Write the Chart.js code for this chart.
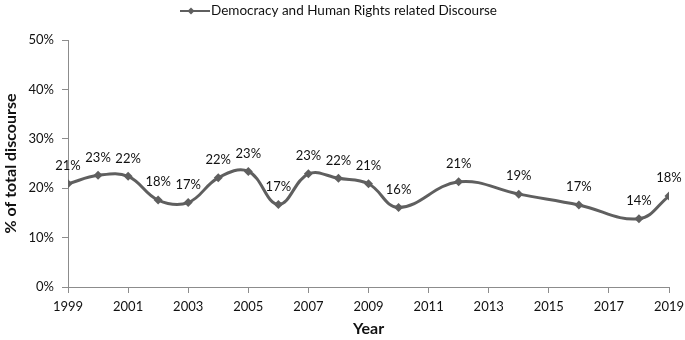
<!DOCTYPE html>
<html>
<head>
<meta charset="utf-8">
<script src="https://cdn.jsdelivr.net/npm/chart.js@4/dist/chart.umd.min.js"></script>
<style>
  html, body { margin: 0; padding: 0; background: #fff; }
  #wrap { width: 685px; height: 340px; }
</style>
</head>
<body>
<div id="wrap"><canvas id="myChart"></canvas></div>
<script>
// data
const seriesName = 'Democracy and Human Rights related Discourse';
const years = [1999, 2000, 2001, 2002, 2003, 2004, 2005, 2006, 2007, 2008, 2009, 2010, 2012, 2014, 2016, 2018, 2019];
const shares = [20.9, 22.6, 22.4, 17.6, 17.1, 22.1, 23.4, 16.7, 22.9, 22.0, 20.9, 16.1, 21.3, 18.8, 16.6, 13.8, 18.4];
const pointLabels = ['21%', '23%', '22%', '18%', '17%', '22%', '23%', '17%', '23%', '22%', '21%', '16%', '21%', '19%', '17%', '14%', '18%'];
const yearTicks = [1999, 2001, 2003, 2005, 2007, 2009, 2011, 2013, 2015, 2017, 2019];
const shareTicks = [0, 10, 20, 30, 40, 50];

const FONT = 'Lato, "Open Sans", sans-serif';
const lineColor = '#5f5f5f';
const axisColor = '#8c8c8c';

// labels above every point
const pointLabelPlugin = {
  id: 'pointLabels',
  afterDatasetsDraw(chart) {
    const ctx = chart.ctx;
    const meta = chart.getDatasetMeta(0);
    ctx.save();
    ctx.font = '13px ' + FONT;
    ctx.fillStyle = '#111';
    ctx.textAlign = 'center';
    ctx.textBaseline = 'middle';
    meta.data.forEach(function (pt, i) {
      ctx.fillText(pointLabels[i], pt.x, pt.y - 18);
    });
    ctx.restore();
  }
};

// legend: short line with a diamond, then the series name
const legendPlugin = {
  id: 'lineLegend',
  afterDraw(chart) {
    const ctx = chart.ctx;
    ctx.save();
    ctx.font = '13.5px ' + FONT;
    const tw = ctx.measureText(seriesName).width;
    const lineW = 30;
    const total = lineW + 1 + tw;
    const x0 = chart.width / 2 - total / 2 - 4;
    const y = 11;
    ctx.strokeStyle = lineColor;
    ctx.lineWidth = 2;
    ctx.beginPath();
    ctx.moveTo(x0, y);
    ctx.lineTo(x0 + lineW, y);
    ctx.stroke();
    ctx.fillStyle = lineColor;
    ctx.beginPath();
    const cx = x0 + lineW / 2 - 4;
    ctx.moveTo(cx, y - 3.5);
    ctx.lineTo(cx + 3.5, y);
    ctx.lineTo(cx, y + 3.5);
    ctx.lineTo(cx - 3.5, y);
    ctx.closePath();
    ctx.fill();
    ctx.fillStyle = '#111';
    ctx.textBaseline = 'middle';
    ctx.fillText(seriesName, x0 + lineW + 1, y);
    ctx.restore();
  }
};

const ctx = document.getElementById('myChart').getContext('2d');
const myChart = new Chart(ctx, {
  type: 'line',
  data: {
    datasets: [{
      label: seriesName,
      data: years.map(function (yr, i) { return { x: yr, y: shares[i] }; }),
      borderColor: lineColor,
      backgroundColor: lineColor,
      borderWidth: 3,
      tension: 0.4,
      fill: false,
      pointStyle: 'rectRot',
      pointRadius: 4.5,
      pointHoverRadius: 4.5,
      pointBorderWidth: 0
    }]
  },
  options: {
    responsive: true,
    maintainAspectRatio: false,
    animation: false,
    layout: { padding: { top: 40, right: 16, bottom: 0, left: 0 } },
    plugins: {
      legend: { display: false },
      tooltip: { enabled: false }
    },
    scales: {
      x: {
        type: 'linear',
        min: 1999,
        max: 2019,
        afterBuildTicks: function (scale) {
          scale.ticks = yearTicks.map(function (v) { return { value: v }; });
        },
        afterFit: function (scale) {
          scale.height = 53;
          scale.paddingLeft = 0;
          scale.paddingRight = 0;
        },
        border: { color: axisColor, width: 1 },
        grid: { drawOnChartArea: false, color: axisColor, tickLength: 6 },
        ticks: {
          color: '#111',
          font: { family: FONT, size: 13 },
          padding: 6,
          maxRotation: 0,
          autoSkip: false,
          callback: function (v) { return String(v); }
        },
        title: {
          display: true,
          text: 'Year',
          color: '#111',
          font: { family: FONT, size: 16, weight: 'bold' },
          padding: { top: 0, bottom: 2 }
        }
      },
      y: {
        min: 0,
        max: 50,
        afterBuildTicks: function (scale) {
          scale.ticks = shareTicks.map(function (v) { return { value: v }; });
        },
        afterFit: function (scale) { scale.width = 68; },
        border: { color: axisColor, width: 1 },
        grid: { drawOnChartArea: false, color: axisColor, tickLength: 6 },
        ticks: {
          color: '#111',
          font: { family: FONT, size: 13 },
          padding: 8,
          callback: function (v) { return v + '%'; }
        },
        title: {
          display: true,
          text: '% of total discourse',
          color: '#111',
          font: { family: FONT, size: 16, weight: 'bold' },
          padding: { top: 1, bottom: 0 }
        }
      }
    }
  },
  plugins: [pointLabelPlugin, legendPlugin]
});
</script>
</body>
</html>
